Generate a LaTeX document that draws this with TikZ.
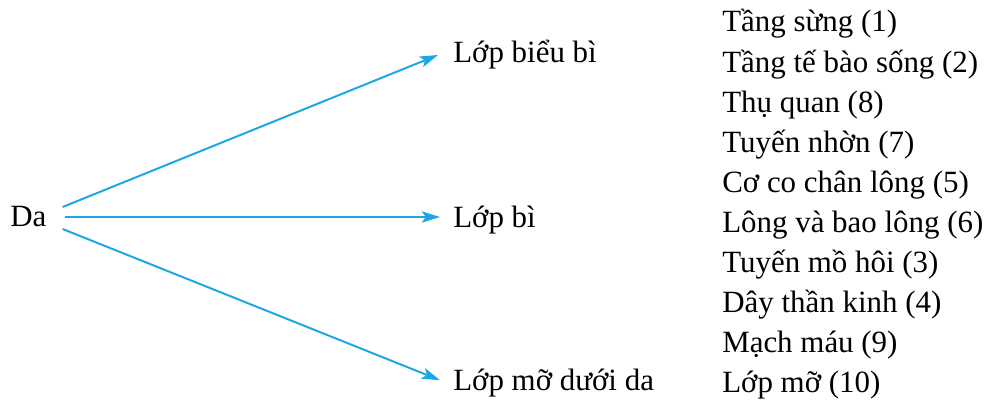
\documentclass[tikz,border=0pt]{standalone}
\usepackage{fontspec}
\setmainfont{Liberation Serif}
\usetikzlibrary{arrows.meta}
\definecolor{cskin}{HTML}{1AA7E4}

\begin{document}
\begin{tikzpicture}[
  font=\fontsize{22}{28}\selectfont,
  lab/.style={anchor=base west, inner sep=0pt},
  arr/.style={-{Stealth[length=13pt, width=8pt, inset=3pt]}, cskin, line width=1.4pt}]
  \useasboundingbox (0,0) rectangle (24.85,10.025);
  % root and the three layers
  \node[lab] (da)   at (0.25,4.35)   {Da};
  \node[lab] (bieu) at (11.325,8.45) {Lớp biểu bì};
  \node[lab] (bi)   at (11.325,4.33) {Lớp bì};
  \node[lab] (mo)   at (11.325,0.25) {Lớp mỡ dưới da};
  % parts, one per line
  \foreach \txt [count=\i] in {Tầng sừng (1), Tầng tế bào sống (2), Thụ quan (8),
      Tuyến nhờn (7), Cơ co chân lông (5), Lông và bao lông (6), Tuyến mồ hôi (3),
      Dây thần kinh (4), Mạch máu (9), Lớp mỡ (10)}
    \node[lab] (p\i) at (18.05,{9.225-(\i-1)*1.0025}) {\txt};
  % arrows
  \draw[arr] ([xshift=0.4cm,yshift=0.5cm]da.base east) -- ([xshift=-0.375cm,yshift=0.2cm]bieu.base west);
  \draw[arr] ([xshift=0.45cm,yshift=0.25cm]da.base east) -- ([xshift=-0.325cm,yshift=0.27cm]bi.base west);
  \draw[arr] ([xshift=0.4cm,yshift=-0.05cm]da.base east) -- ([xshift=-0.325cm,yshift=0.27cm]mo.base west);
\end{tikzpicture}
\end{document}
